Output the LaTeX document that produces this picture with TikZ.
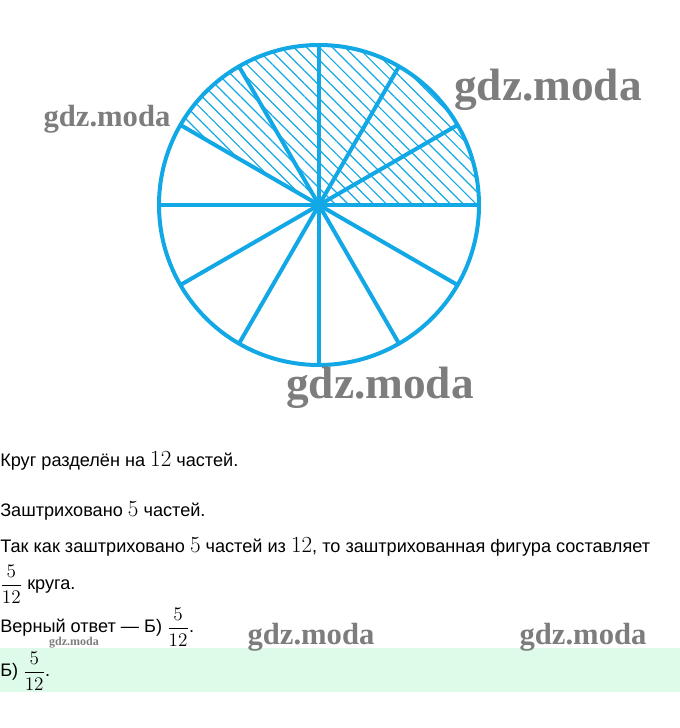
\documentclass[tikz,border=0pt]{standalone}
\usepackage{amsmath}
\usepackage{fontspec}
\setmainfont{Liberation Sans}
\newfontfamily\wmfont{Liberation Serif}
\usetikzlibrary{patterns.meta}
\definecolor{circblue}{RGB}{18,168,230}
\definecolor{answergreen}{RGB}{222,251,233}
\definecolor{wmgray}{RGB}{125,125,125}
\newcommand{\bnum}[1]{{\fontsize{16.5}{16}\selectfont$#1$}}

\begin{document}
\begin{tikzpicture}[x=0.75pt,y=0.75pt,
    every node/.style={inner sep=0pt,anchor=base west,font=\fontsize{13.6}{16}\selectfont},
    wm/.style={text=wmgray,anchor=center,font=\wmfont\bfseries\fontsize{#1}{#1}\selectfont},
    rim/.style={circblue,line width=3pt}]
    \useasboundingbox (0,0) rectangle (680,728);
    \fill[answergreen] (0,36) rectangle (680,80);

    % circle, 5 of 12 parts hatched
    \coordinate (c) at (319,523);
    \fill[pattern={Lines[angle=-45,distance=6.8pt,line width=0.9pt]},pattern color=circblue]
        (c) -- ++(0:160) arc (0:150:160) -- cycle;
    \foreach \a in {0,30,...,330}
        \draw[rim] (c) -- ++(\a:160);
    \draw[rim] (c) circle (160);

    \node[wm=34] (wm1) at (548,638) {gdz.moda};
    \node[wm=23] (wm2) at (107,609) {gdz.moda};
    \node[wm=34] (wm3) at (380,340) {gdz.moda};

    \node (t1) at (0,261) {Круг разделён на \bnum{12} частей.};
    \node (t2) at (0,211) {Заштриховано \bnum{5} частей.};
    \node (t3) at (0,175) {Так как заштриховано \bnum{5} частей из \bnum{12}, то заштрихованная фигура составляет};
    \node (t4) at (0,138) {$\dfrac{5}{12}$ круга.};
    \node (t5) at (0,95) {Верный ответ — Б) $\dfrac{5}{12}$.};
    \node (t6) at (0,51) {Б) $\dfrac{5}{12}$.};

    \node[wm=23] (wm4) at (311,91) {gdz.moda};
    \node[wm=23] (wm5) at (583,91) {gdz.moda};
    \node[wm=9] (wm6) at (74,85) {gdz.moda};
\end{tikzpicture}
\end{document}
